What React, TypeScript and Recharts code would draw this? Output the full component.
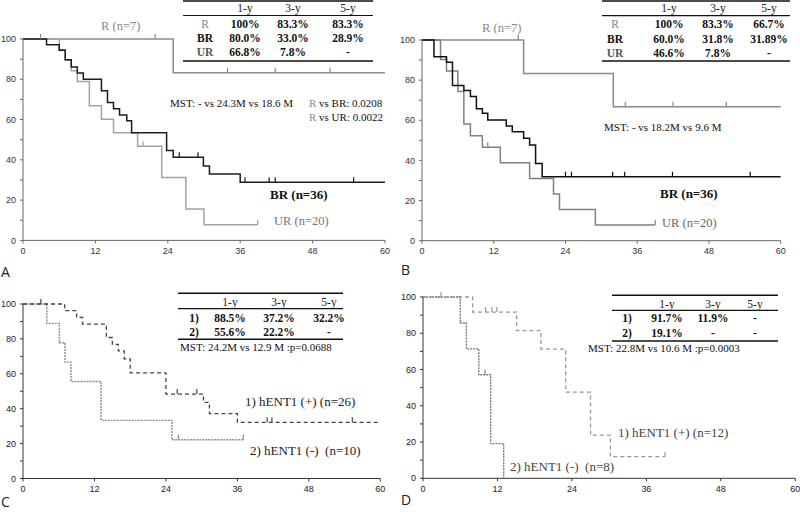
import React from "react";
import { LineChart, Line, XAxis, YAxis } from "recharts";

type Pt = [number, number];

const monthTicks = [0, 12, 24, 36, 48, 60];
const pctTicks = [0, 10, 20, 30, 40, 50, 60, 70, 80, 90, 100];

// Panel A - resection status, curves [month, survival %]
const aR: Pt[] = [[0, 100], [24.9, 83.3], [60, 83.3]];
const aRCens: Pt[] = [[2.9, 100], [21.9, 100], [33.9, 83.3], [41.8, 83.3], [50.9, 83.3]];
const aBR: Pt[] = [
    [0, 100], [3.9, 97.2], [6, 94.4], [7, 89.7], [8, 86.1], [9, 83.1], [10, 80], [13, 74.3], [14, 68.5],
    [15, 65.4], [16, 62.3], [17.2, 59.4], [18, 53.5], [23.8, 44.6], [24.9, 41.3], [29.9, 37], [30.9, 33],
    [36, 28.9], [60, 28.9],
];
const aBRCens: Pt[] = [[25.9, 41.3], [29, 41.3], [36.8, 28.9], [40.8, 28.9], [41.8, 28.9], [54.8, 28.9]];
const aUR: Pt[] = [
    [0, 100], [6, 94.7], [7, 89.5], [8, 84.2], [9, 78.9], [11, 66.8], [13, 60.1], [15, 53.4], [19, 46.7],
    [23, 31.2], [27, 15.6], [30, 7.8], [38.9, 7.8],
];
const aURCens: Pt[] = [[19.9, 46.7], [38.9, 7.8]];

// Panel B
const bR: Pt[] = [[0, 100], [17, 83.3], [32, 66.7], [60, 66.7]];
const bRCens: Pt[] = [[16.1, 100], [34, 66.7], [42, 66.7], [50.9, 66.7]];
const bBR: Pt[] = [
    [0, 100], [2, 91.7], [4.1, 88.9], [5.1, 77.3], [7, 74.8], [8.1, 71.8], [9.1, 65.8], [10.1, 63.5],
    [11, 60.1], [14.1, 57.1], [15.1, 54.3], [17, 51], [18, 47.7], [19, 38.5], [20.1, 31.89], [60, 31.89],
];
const bBRCens: Pt[] = [[24, 31.89], [25, 31.89], [31.9, 31.89], [33.9, 31.89], [41.9, 31.89], [54.9, 31.89]];
const bUR: Pt[] = [
    [0, 100], [3.1, 90.3], [4.1, 84.6], [6, 74.3], [7, 58.1], [8.1, 52.3], [10.1, 46.5], [13.1, 38.8],
    [18, 31], [22, 23.3], [23, 15.5], [29, 7.8], [39, 7.8],
];
const bURCens: Pt[] = [[11, 46.5], [39, 7.8]];

// Panel C - hENT1
const cPos: Pt[] = [
    [0, 100], [7, 96.2], [9, 92.3], [10, 88.5], [14, 80.8], [15, 76.9], [16, 73.1], [17, 68.6], [18, 60.5],
    [24, 48.4], [30.3, 43.6], [31.3, 37.2], [36, 32.2], [60, 32.2],
];
const cPosCens: Pt[] = [[3, 100], [25.9, 48.4], [29.2, 48.4], [41, 32.2], [41.8, 32.2], [55.3, 32.2]];
const cNeg: Pt[] = [[0, 100], [4, 88.9], [6.1, 77.8], [7.05, 66.7], [8.05, 55.6], [13.1, 33.3], [25, 22.2], [37, 22.2]];
const cNegCens: Pt[] = [[26.1, 22.2], [37, 22.2]];

// Panel D
const dPos: Pt[] = [[0, 100], [8, 91.7], [15.1, 81.5], [19, 71.3], [23, 47.5], [27, 23.8], [30.2, 11.9], [39, 11.9]];
const dPosCens: Pt[] = [[2.9, 100], [10.1, 91.7], [11.1, 91.7], [11.9, 91.7], [39, 11.9]];
const dNeg: Pt[] = [[0, 100], [6, 85.7], [7, 71.4], [9, 57.1], [10.9, 19.1], [13, 0]];
const dNegCens: Pt[] = [[10, 57.1]];

// survival tables
const tableHead = ["1-y", "3-y", "5-y"];
const groupRows = ["R", "BR", "UR"];
const aTable = [["100%", "83.3%", "83.3%"], ["80.0%", "33.0%", "28.9%"], ["66.8%", "7.8%", "-"]];
const bTable = [["100%", "83.3%", "66.7%"], ["60.0%", "31.8%", "31.89%"], ["46.6%", "7.8%", "-"]];
const hentRows = ["1)", "2)"];
const cTable = [["88.5%", "37.2%", "32.2%"], ["55.6%", "22.2%", "-"]];
const dTable = [["91.7%", "11.9%", "-"], ["19.1%", "-", "-"]];

const SERIF = "'Liberation Serif', 'Times New Roman', serif";

interface Curve {
    steps: Pt[];
    censors: Pt[];
    color: string;
    dash?: string;
    width?: number;
}

interface PanelProps {
    x0: number;
    x1: number;
    y0: number;
    y1: number;
    curves: Curve[];
    axisColor: string;
    tickColor: string;
}

const toRows = (pts: Pt[]) => pts.map(([t, v]) => ({ t, v }));

const censorDot = (color: string) => (p: any) => {
    if (p.cx == null || p.cy == null) return <g key={`n-${p.index}`} />;
    return <line key={`c-${p.index}`} x1={p.cx} x2={p.cx} y1={p.cy - 5} y2={p.cy} stroke={color} strokeWidth={1.2} />;
};

function KMPanel({ x0, x1, y0, y1, curves, axisColor, tickColor }: PanelProps) {
    const padL = 30, padR = 12, padT = 10, padB = 22;
    const w = x1 - x0 + padL + padR;
    const h = y1 - y0 + padT + padB;
    const tick = { fontSize: 9, fontFamily: "'Liberation Sans', Arial, sans-serif", fill: tickColor };
    return (
        <div style={{ position: "absolute", left: x0 - padL, top: y0 - padT }}>
            <LineChart width={w} height={h} margin={{ top: padT, right: padR, bottom: 0, left: 0 }}>
                <XAxis
                    type="number"
                    dataKey="t"
                    domain={[0, 60]}
                    ticks={monthTicks}
                    height={padB}
                    stroke={axisColor}
                    tick={tick}
                    tickSize={3}
                    tickMargin={4}
                    allowDuplicatedCategory={false}
                />
                <YAxis
                    type="number"
                    domain={[0, 100]}
                    ticks={pctTicks}
                    width={padL}
                    stroke={axisColor}
                    tick={tick}
                    tickSize={3}
                    tickMargin={4}
                    tickFormatter={(v: number) => (v % 20 === 0 ? String(v) : "")}
                />
                {curves.map((c, i) => (
                    <Line
                        key={`s${i}`}
                        data={toRows(c.steps)}
                        dataKey="v"
                        type="stepAfter"
                        stroke={c.color}
                        strokeWidth={c.width ?? 1.5}
                        strokeDasharray={c.dash}
                        dot={false}
                        activeDot={false}
                        legendType="none"
                        isAnimationActive={false}
                    />
                ))}
                {curves.map((c, i) => (
                    <Line
                        key={`c${i}`}
                        data={toRows(c.censors)}
                        dataKey="v"
                        stroke="none"
                        dot={censorDot(c.color)}
                        activeDot={false}
                        legendType="none"
                        isAnimationActive={false}
                    />
                ))}
            </LineChart>
        </div>
    );
}

interface TableProps {
    left: number;
    right: number;
    lines: number[]; // top, under header, bottom
    rowY: number[]; // header, then one per row
    cols: number[]; // label, 1-y, 3-y, 5-y
    labels: string[];
    labelStyle: { fill: string; bold: boolean }[];
    values: string[][];
}

function SurvTable({ left, right, lines, rowY, cols, labels, labelStyle, values }: TableProps) {
    return (
        <g fontFamily={SERIF} fontSize={11.5} textAnchor="middle">
            <line x1={left} x2={right} y1={lines[0]} y2={lines[0]} stroke="#111" strokeWidth={1.6} />
            <line x1={left} x2={right} y1={lines[1]} y2={lines[1]} stroke="#111" strokeWidth={1.2} />
            <line x1={left} x2={right} y1={lines[2]} y2={lines[2]} stroke="#111" strokeWidth={1.6} />
            {tableHead.map((hd, j) => (
                <text key={hd} x={cols[j + 1]} y={rowY[0]} dominantBaseline="central" fill="#222">
                    {hd}
                </text>
            ))}
            {labels.map((lb, i) => (
                <g key={lb}>
                    <text
                        x={cols[0]}
                        y={rowY[i + 1]}
                        dominantBaseline="central"
                        fill={labelStyle[i].fill}
                        fontWeight={labelStyle[i].bold ? "bold" : "normal"}
                    >
                        {lb}
                    </text>
                    {values[i].map((val, j) => (
                        <text key={j} x={cols[j + 1]} y={rowY[i + 1]} dominantBaseline="central" fontWeight="bold" fill="#111">
                            {val}
                        </text>
                    ))}
                </g>
            ))}
        </g>
    );
}

const groupLabelStyle = [
    { fill: "#888", bold: false },
    { fill: "#111", bold: true },
    { fill: "#555", bold: true },
];
const hentLabelStyle = [
    { fill: "#111", bold: true },
    { fill: "#111", bold: true },
];

export default function App() {
    const txt = { fontFamily: SERIF, dominantBaseline: "central" as const };
    return (
        <div style={{ position: "absolute", left: 0, top: 0, width: 800, height: 512, background: "#fff", overflow: "hidden" }}>
            <KMPanel
                x0={23}
                x1={385}
                y0={39.3}
                y1={240.7}
                axisColor="#666"
                tickColor="#333"
                curves={[
                    { steps: aR, censors: aRCens, color: "#8a8a8a" },
                    { steps: aUR, censors: aURCens, color: "#a3a3a3" },
                    { steps: aBR, censors: aBRCens, color: "#1c1c1c" },
                ]}
            />
            <KMPanel
                x0={422.3}
                x1={781}
                y0={40}
                y1={240.7}
                axisColor="#666"
                tickColor="#333"
                curves={[
                    { steps: bR, censors: bRCens, color: "#8a8a8a" },
                    { steps: bUR, censors: bURCens, color: "#808080" },
                    { steps: bBR, censors: bBRCens, color: "#111" },
                ]}
            />
            <KMPanel
                x0={22.7}
                x1={380}
                y0={304}
                y1={478.5}
                axisColor="#333"
                tickColor="#222"
                curves={[
                    { steps: cNeg, censors: cNegCens, color: "#8c8c8c", dash: "2 1", width: 1.4 },
                    { steps: cPos, censors: cPosCens, color: "#444", dash: "4 3", width: 1.3 },
                ]}
            />
            <KMPanel
                x0={422.7}
                x1={795}
                y0={297}
                y1={478.3}
                axisColor="#333"
                tickColor="#222"
                curves={[
                    { steps: dNeg, censors: dNegCens, color: "#7a7a7a", dash: "2 1", width: 1.4 },
                    { steps: dPos, censors: dPosCens, color: "#999", dash: "4 3", width: 1.3 },
                ]}
            />
            <svg width={800} height={512} style={{ position: "absolute", left: 0, top: 0, pointerEvents: "none" }}>
                <SurvTable
                    left={183}
                    right={373}
                    lines={[1, 15.5, 61]}
                    rowY={[7.5, 24, 38, 52]}
                    cols={[205, 245, 293, 348]}
                    labels={groupRows}
                    labelStyle={groupLabelStyle}
                    values={aTable}
                />
                <SurvTable
                    left={602}
                    right={790}
                    lines={[1, 15.7, 61]}
                    rowY={[7.5, 24, 39, 53]}
                    cols={[615, 669, 718, 769]}
                    labels={groupRows}
                    labelStyle={groupLabelStyle}
                    values={bTable}
                />
                <SurvTable
                    left={178}
                    right={343}
                    lines={[293.3, 308.7, 339.3]}
                    rowY={[302.2, 317.7, 332]}
                    cols={[194, 230, 279, 329]}
                    labels={hentRows}
                    labelStyle={hentLabelStyle}
                    values={cTable}
                />
                <SurvTable
                    left={612}
                    right={778}
                    lines={[295.3, 310.3, 341]}
                    rowY={[303.5, 318, 333.3]}
                    cols={[627, 667, 713, 755]}
                    labels={hentRows}
                    labelStyle={hentLabelStyle}
                    values={dTable}
                />

                {/* panel A notes */}
                <text {...txt} x={101} y={26} fontSize={12.5} fill="#888">R (n=7)</text>
                <text {...txt} x={170} y={103} fontSize={11} fill="#111">MST: - vs 24.3M vs 18.6 M</text>
                <text {...txt} x={309} y={103} fontSize={11} fill="#111"><tspan fill="#888">R</tspan> vs BR: 0.0208</text>
                <text {...txt} x={309} y={117} fontSize={11} fill="#111"><tspan fill="#888">R</tspan> vs UR: 0.0022</text>
                <text {...txt} x={270} y={194} fontSize={13} fontWeight="bold" fill="#111">BR (n=36)</text>
                <text {...txt} x={274} y={221} fontSize={12.5} fill="#777">UR (n=20)</text>

                {/* panel B notes */}
                <text {...txt} x={482} y={28} fontSize={12.5} fill="#888">R (n=7)</text>
                <text {...txt} x={604} y={127} fontSize={11} fill="#111">MST: - vs 18.2M vs 9.6 M</text>
                <text {...txt} x={660} y={193} fontSize={13} fontWeight="bold" fill="#111">BR (n=36)</text>
                <text {...txt} x={662} y={223} fontSize={12.5} fill="#666">UR (n=20)</text>

                {/* panel C notes */}
                <text {...txt} x={180} y={347} fontSize={11} fill="#111">MST: 24.2M vs 12.9 M :p=0.0688</text>
                <text {...txt} x={245} y={401.7} fontSize={13} fill="#222">1) hENT1 (+) (n=26)</text>
                <text {...txt} x={250} y={450} fontSize={13} fill="#222" style={{ whiteSpace: "pre" }}>2) hENT1 (-)  (n=10)</text>

                {/* panel D notes */}
                <text {...txt} x={588} y={347.7} fontSize={11} fill="#111">MST: 22.8M vs 10.6 M :p=0.0003</text>
                <text {...txt} x={618} y={432.7} fontSize={13} fill="#444">1) hENT1 (+) (n=12)</text>
                <text {...txt} x={510} y={466} fontSize={13} fill="#444" style={{ whiteSpace: "pre" }}>2) hENT1 (-)  (n=8)</text>

                {/* panel letters */}
                <g fontFamily="'Open Sans', 'DejaVu Sans', sans-serif" fontSize={14} fill="#222">
                    <text x={1} y={277}>A</text>
                    <text x={401} y={275}>B</text>
                    <text x={1} y={507}>C</text>
                    <text x={401} y={505}>D</text>
                </g>
            </svg>
        </div>
    );
}
